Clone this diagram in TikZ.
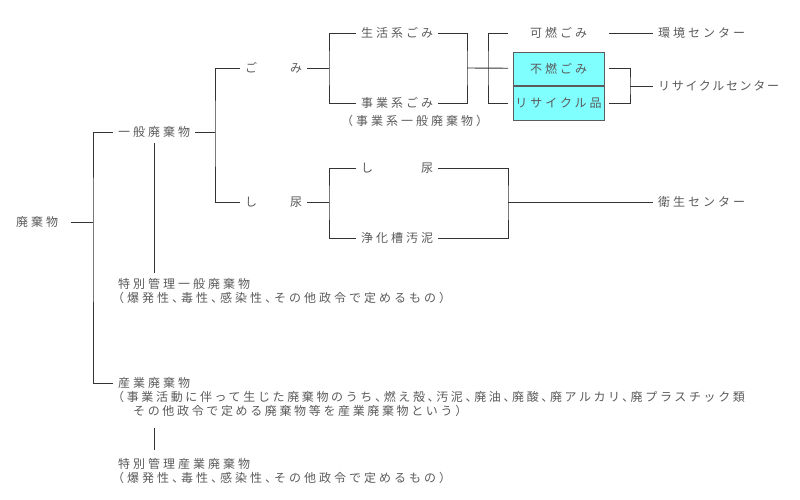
\documentclass[tikz,border=0pt]{standalone}
\usepackage{fontspec}
\newfontfamily\jp[LetterSpace=25]{Noto Sans CJK JP}
\newfontfamily\jpkana[LetterSpace=14]{Noto Sans CJK JP}
\newfontfamily\jpnote[LetterSpace=25,RawFeature=+halt]{Noto Sans CJK JP}
\newfontfamily\jplong[LetterSpace=22,RawFeature=+halt]{Noto Sans CJK JP}
\definecolor{txtgray}{HTML}{5A5A5A}
\definecolor{linegray}{HTML}{333333}
\definecolor{boxcyan}{HTML}{80FFFF}
\tikzset{
  lbl/.style={anchor=west, inner xsep=5pt, inner ysep=1pt, text height=9.2pt, text depth=0pt, text=txtgray, font=\jp\fontsize{12}{14}\selectfont},
  note/.style={anchor=north west, align=left, inner xsep=5pt, inner ysep=1pt, text=txtgray, font=\jpnote\fontsize{12}{14}\selectfont},
  binbox/.style={draw=linegray!80, fill=boxcyan, minimum width=91pt, minimum height=33.5pt, inner sep=0pt, outer xsep=5pt, text height=9.2pt, text depth=0pt, text=txtgray, font=\jp\fontsize{12}{14}\selectfont},
  link/.style={draw=linegray, line width=.9pt}
}
\begin{document}
\begin{tikzpicture}[x=1pt,y=-1pt]
\useasboundingbox (0,0) rectangle (800,499);
% left column
\node[lbl] (haiki) at (11,222) {廃棄物};
\node[lbl] (ippan) at (113,132) {一般廃棄物};
\node[note] (tokuIppan) at (113,277) {特別管理一般廃棄物\\（爆発性、毒性、感染性、その他政令で定めるもの）};
\node[lbl] (sangyo) at (113,383) {産業廃棄物};
\node[note, font=\jplong\fontsize{12}{14}\selectfont] (sangyoNote) at (113,390) {（事業活動に伴って生じた廃棄物のうち、燃え殻、汚泥、廃油、廃酸、廃アルカリ、廃プラスチック類\\\hspace*{15pt}その他政令で定める廃棄物等を産業廃棄物という）};
\node[note] (tokuSangyo) at (113,457) {特別管理産業廃棄物\\（爆発性、毒性、感染性、その他政令で定めるもの）};
% gomi and shinyo
\node[lbl] (gomi) at (240,68) {ご　　み};
\node[lbl] (shinyo) at (240,202) {し　　尿};
\node[lbl] (seikatsu) at (356,33) {生活系ごみ};
\node[lbl] (jigyo) at (356,103) {事業系ごみ};
\node[note] (jigyoNote) at (342,114) {（事業系一般廃棄物）};
\node[lbl, anchor=center, inner xsep=0pt, minimum width=91pt, outer xsep=5pt] (kanen) at (558.5,33) {可燃ごみ};
\node[binbox] (funen) at (558.5,68.5) {不燃ごみ};
\node[binbox] (recycle) at (558.5,103) {リサイクル品};
\node[lbl] (shinyo2) at (356,168) {し　　　尿};
\node[lbl] (jokaso) at (356,238) {浄化槽汚泥};
% centers
\node[lbl] (kankyo) at (653,33) {環境センター};
\node[lbl, font=\jpkana\fontsize{12}{14}\selectfont] (recycleC) at (653,86) {リサイクルセンター};
\node[lbl] (eisei) at (653,202) {衛生センター};
% junctions
\coordinate (jTrunk) at (93,222);
\coordinate (jIppan) at (215,132);
\coordinate (jGomi) at (329,68);
\coordinate (jKei) at (467,68);
\coordinate (jBunbetsu) at (488,68);
\coordinate (jRecycle) at (630,86);
\coordinate (jShinyo) at (329,202);
\coordinate (jEisei) at (508,202);
\coordinate (tkx) at (154,0);
% connectors
\draw[link, shorten <=8pt] (haiki) -- (jTrunk);
\draw[link] (ippan.west) -| (jTrunk) |- (sangyo.west);
\draw[link] (ippan) -- (jIppan);
\draw[link] (gomi.west) -| (jIppan) |- (shinyo.west);
\draw[link] (gomi) -- (jGomi);
\draw[link] (seikatsu.west) -| (jGomi) |- (jigyo.west);
\draw[link] (seikatsu.east) -| (jKei) |- (jigyo.east);
\draw[link] (jKei) -- (funen);
\draw[link] (kanen.west) -| (jBunbetsu) |- (recycle.west);
\draw[link] (kanen) -- (kankyo);
\draw[link] (funen.east) -| (jRecycle) |- (recycle.east);
\draw[link] (jRecycle) -- (recycleC);
\draw[link] (shinyo) -- (jShinyo);
\draw[link] (shinyo2.west) -| (jShinyo) |- (jokaso.west);
\draw[link] (shinyo2.east) -| (jEisei) |- (jokaso.east);
\draw[link] (jEisei) -- (eisei);
\draw[link, shorten <=5pt, shorten >=4pt] (ippan.south -| tkx) -- (tokuIppan.north -| tkx);
\draw[link, shorten <=10pt, shorten >=7pt] (sangyoNote.south -| tkx) -- (tokuSangyo.north -| tkx);
\end{tikzpicture}
\end{document}
